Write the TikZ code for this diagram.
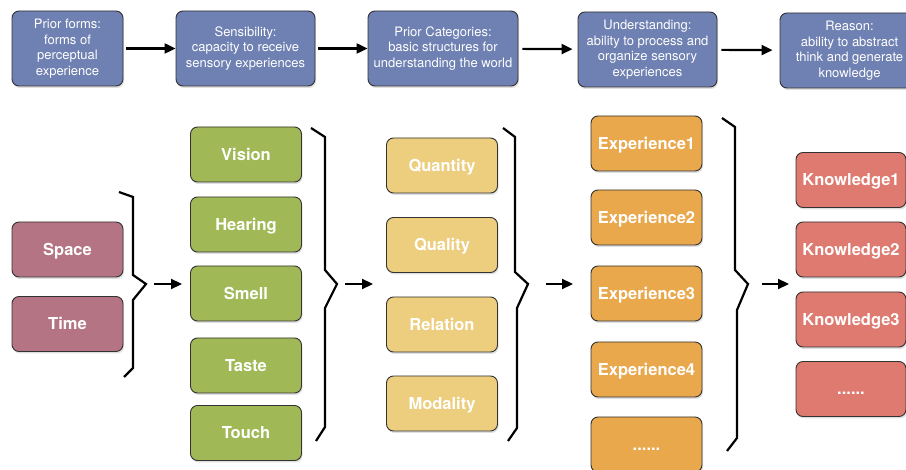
\documentclass[tikz,border=0pt]{standalone}
\usepackage{fontspec}
\setmainfont{TeX Gyre Heros}
\usetikzlibrary{arrows.meta,shadows}
\definecolor{topblue}{RGB}{111,128,178}
\definecolor{formred}{RGB}{180,116,131}
\definecolor{sensegreen}{RGB}{160,185,86}
\definecolor{catyellow}{RGB}{236,206,126}
\definecolor{exporange}{RGB}{233,168,76}
\definecolor{knowred}{RGB}{222,122,112}
\begin{document}
\begin{tikzpicture}[x=1pt,y=-1pt]
    \useasboundingbox (0,0) rectangle (906,470);
    \begin{scope}
        \tikzstyle{every node}=[draw=black!80, line width=0.9pt, rounded corners=7pt, inner sep=0pt, text=white, align=center, drop shadow={opacity=0.25, shadow xshift=1pt, shadow yshift=-2pt}]
        % top row
        \begin{scope}
            \tikzstyle{every node}+=[fill=topblue, minimum height=75pt, font=\fontsize{13}{15.5}\selectfont]
            \node (t0) at (67.5,48.5) [minimum width=111pt] {Prior forms:\\forms of\\perceptual\\experience};
            \node (t1) at (245.5,48.5) [minimum width=139pt] {Sensibility:\\capacity to receive\\sensory experiences};
            \node (t2) at (443,48.5) [minimum width=150pt] {Prior Categories:\\basic structures for\\understanding the world};
            \node (t3) at (647.5,49.5) [minimum width=139pt] {Understanding:\\ability to process and\\organize sensory\\experiences};
            \node (t4) at (849.5,50.5) [minimum width=139pt] {Reason:\\ability to abstract\\think and generate\\knowledge};
        \end{scope}
        % bottom row
        \begin{scope}
            \tikzstyle{every node}+=[minimum width=111pt, minimum height=55pt, text height=12pt, text depth=0pt, font=\fontsize{16.5}{19}\selectfont\bfseries]
            \node (f0) at (67.5,249.5) [fill=formred] {Space};
            \node (f1) at (67.5,324) [fill=formred] {Time};
            \node (s0) at (246,154.5) [fill=sensegreen] {Vision};
            \node (s1) at (246,224.5) [fill=sensegreen] {Hearing};
            \node (s2) at (246,293.5) [fill=sensegreen] {Smell};
            \node (s3) at (246,365.5) [fill=sensegreen] {Taste};
            \node (s4) at (246,433) [fill=sensegreen] {Touch};
            \node (c0) at (442,165.5) [fill=catyellow] {Quantity};
            \node (c1) at (442,245) [fill=catyellow] {Quality};
            \node (c2) at (442,324.5) [fill=catyellow] {Relation};
            \node (c3) at (442,403.5) [fill=catyellow] {Modality};
            \node (e0) at (646.5,143.5) [fill=exporange] {Experience1};
            \node (e1) at (646.5,217.5) [fill=exporange] {Experience2};
            \node (e2) at (646.5,293.5) [fill=exporange] {Experience3};
            \node (e3) at (646.5,369.5) [fill=exporange] {Experience4};
            \node (e4) at (646.5,444.5) [fill=exporange] {......};
            \node (k0) at (851,180) [fill=knowred, minimum width=110pt] {Knowledge1};
            \node (k1) at (851,249.5) [fill=knowred, minimum width=110pt] {Knowledge2};
            \node (k2) at (851,319.5) [fill=knowred, minimum width=110pt] {Knowledge3};
            \node (k3) at (851,389) [fill=knowred, minimum width=110pt] {......};
        \end{scope}
    \end{scope}
    % braces
    \begin{scope}
        \tikzstyle{every path}=[draw, line width=2.2pt, line join=miter]
        \path (119,192) -- (133,197) -- (133,275) -- (146,284) -- (133,300) -- (133,368) -- (124,377);
        \path (311,128) -- (325,137) -- (325,270) -- (337,284) -- (325,308) -- (325,427) -- (316,441);
        \path (503,128) -- (515,137) -- (515,272) -- (528,284) -- (517,308) -- (517,428) -- (508,441);
        \path (722,118) -- (735,127) -- (735,270) -- (748,284) -- (737,310) -- (737,438) -- (727,451);
    \end{scope}
    \coordinate (u0) at (154,284);
    \coordinate (v0) at (182,284);
    \coordinate (u1) at (345,284);
    \coordinate (v1) at (373,284);
    \coordinate (u2) at (546,284);
    \coordinate (v2) at (573,284);
    \coordinate (u3) at (762,284);
    \coordinate (v3) at (789,284);
    \begin{scope}
        \tikzstyle{every edge}=[draw, line width=2.2pt, -{Triangle[length=11pt,width=10pt]}]
        \path
        (t0) edge[shorten <=3pt] (t1)
        (t1) edge[shorten <=3pt] (t2)
        (t2) edge[shorten <=4pt, shorten >=5pt] (t3)
        (t3) edge[shorten <=4pt, shorten >=7pt] (t4)
        (u0) edge (v0)
        (u1) edge (v1)
        (u2) edge (v2)
        (u3) edge (v3);
    \end{scope}
\end{tikzpicture}
\end{document}
